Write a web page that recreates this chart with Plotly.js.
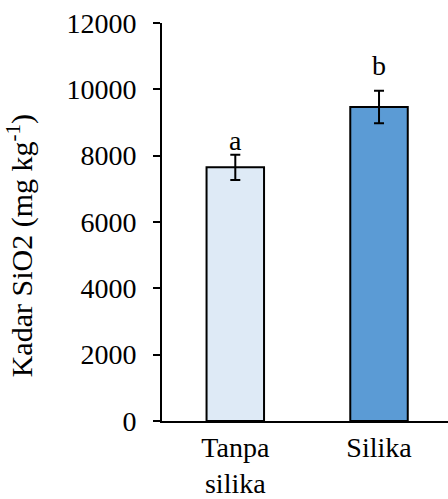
<!DOCTYPE html>
<html>
<head>
<meta charset="utf-8">
<script src="https://cdn.plot.ly/plotly-3.0.1.min.js"></script>
<style>html,body{margin:0;padding:0;background:#fff;}#chart{width:448px;height:499px;}</style>
</head>
<body>
<div id="chart"></div>
<script>
var categories = ["Tanpa<br>silika", "Silika"];
var values = [7650, 9470];
var errors = [380, 490];
var letters = ["a", "b"];
var letterY = [8460, 10720];
var barColors = ["#DEEAF6", "#5B9BD5"];
var yTicks = [0, 2000, 4000, 6000, 8000, 10000, 12000];
var yTitle = "Kadar SiO2 (mg kg<sup>-1</sup>)";

var FONT = "'Liberation Serif', 'Times New Roman', serif";

var trace = {
  type: "bar",
  x: categories,
  y: values,
  width: 0.4,
  marker: {color: barColors, line: {color: "#000", width: 2}},
  error_y: {type: "data", array: errors, visible: true, color: "#000", thickness: 2, width: 5}
};

var annotations = letters.map(function(l, i) {
  return {x: categories[i], y: letterY[i], text: l, showarrow: false, xref: "x", yref: "y",
          yanchor: "middle", font: {family: FONT, size: 28, color: "#000"}};
});
annotations.push({
  xref: "paper", yref: "paper", x: -0.495, y: 0.44, xanchor: "center", yanchor: "middle",
  text: yTitle, textangle: -90, showarrow: false,
  font: {family: FONT, size: 30, color: "#000"}
});

var layout = {
  width: 448, height: 499,
  margin: {l: 162, r: 0, t: 23, b: 78},
  paper_bgcolor: "#fff", plot_bgcolor: "#fff",
  showlegend: false,
  font: {family: FONT, size: 28, color: "#000"},
  xaxis: {
    range: [-0.51, 1.48], showline: true, linecolor: "#000", linewidth: 2,
    ticks: "", showgrid: false, zeroline: false, fixedrange: true,
    tickfont: {family: FONT, size: 28, color: "#000"}
  },
  yaxis: {
    range: [0, 12000], tickvals: yTicks, ticktext: yTicks.map(String),
    showline: true, linecolor: "#000", linewidth: 2,
    ticks: "outside", ticklen: 7, tickwidth: 2, tickcolor: "#000",
    showgrid: false, zeroline: false, ticklabelstandoff: 11,
    tickfont: {family: FONT, size: 28, color: "#000"}
  },
  annotations: annotations
};

Plotly.newPlot("chart", [trace], layout, {displayModeBar: false, staticPlot: true});
</script>
</body>
</html>
